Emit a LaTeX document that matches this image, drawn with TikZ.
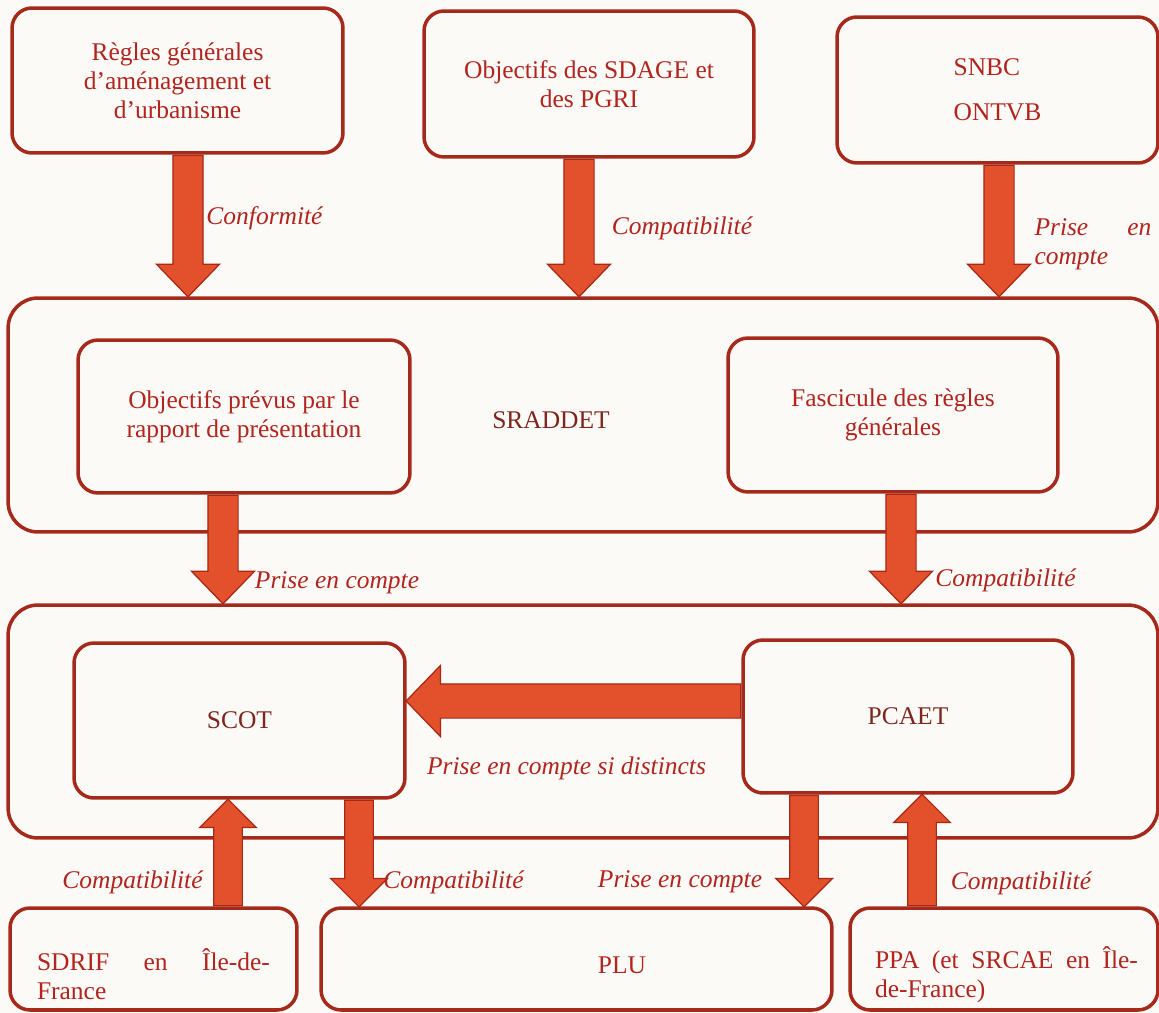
\documentclass[tikz,border=0pt]{standalone}
\usepackage{fontspec}
\setmainfont{Liberation Serif}
\usetikzlibrary{shapes.arrows,calc}

\definecolor{boxline}{RGB}{165,42,28}
\definecolor{txtred}{RGB}{178,36,30}
\definecolor{txtdark}{RGB}{125,38,30}
\definecolor{arrowfill}{RGB}{226,80,44}
\definecolor{arrowline}{RGB}{168,40,22}
\definecolor{paper}{RGB}{251,250,246}

% block arrow on a column x, from one anchor to another
\newcommand{\vflow}[4][]{%
  \path let \p1=(#3), \p2=(#4), \p3=(#2,0),
        \n1={abs(\y2-\y1)}, \n2={atan2(\y2-\y1,0)} in
    node[bigarrow,#1,minimum height=\n1,rotate=\n2,anchor=tail] at (\x3,\y1) {};}
% block arrow on a row y
\newcommand{\hflow}[4][]{%
  \path let \p1=(#3), \p2=(#4), \p3=(0,#2),
        \n1={abs(\x2-\x1)}, \n2={atan2(0,\x2-\x1)} in
    node[bigarrow,#1,minimum height=\n1,rotate=\n2,anchor=tail] at (\x1,\y3) {};}

\begin{document}
\begin{tikzpicture}[x=0.02cm,y=-0.02cm,
    every node/.style={font=\fontsize{14.5}{16.5}\selectfont},
    box/.style={draw=boxline,line width=2pt,rounded corners=0.4cm,text=txtred,align=center},
    region/.style={draw=boxline,line width=2pt,rounded corners=0.6cm},
    lbl/.style={text=txtred,font=\fontsize{14.5}{16.5}\selectfont\itshape,inner sep=0pt},
    bigarrow/.style={single arrow,draw=arrowline,fill=arrowfill,line width=0.7pt,
      inner xsep=0pt,inner ysep=0.29cm,minimum width=0pt,
      single arrow head extend=0.33cm,single arrow tip angle=88},
    smallarrow/.style={inner ysep=0.275cm,single arrow head extend=0.28cm,single arrow tip angle=90},
    widearrow/.style={inner ysep=0.33cm,single arrow head extend=0.37cm,single arrow tip angle=92}]

    \useasboundingbox (0,0) rectangle (1159,1013);
    \fill[paper] (0,0) rectangle (1159,1013);

    % Top row
    \node[box,minimum width=6.62cm,minimum height=2.9cm] (regles) at (177.5,80.5)
      {Règles générales\\d’aménagement et\\d’urbanisme};
    \node[box,minimum width=6.6cm,minimum height=2.92cm] (sdage) at (589,84)
      {Objectifs des SDAGE et\\des PGRI};
    \node[box,minimum width=6.42cm,minimum height=2.92cm,align=left] (snbc) at (997.5,90)
      {SNBC\\[9pt]ONTVB};

    % SRADDET
    \node[region,minimum width=23cm,minimum height=4.68cm] (sraddet) at (583,415) {};
    \node[text=txtdark] (sraddet-lbl) at (551,420) {SRADDET};
    \node[box,minimum width=6.64cm,minimum height=3.06cm] (objectifs) at (244,416.5)
      {Objectifs prévus par le\\rapport de présentation};
    \node[box,minimum width=6.6cm,minimum height=3.08cm] (fascicule) at (893,415)
      {Fascicule des règles\\générales};

    % SCOT and PCAET
    \node[region,minimum width=23cm,minimum height=4.66cm] (local) at (583,721.5) {};
    \node[box,text=txtdark,minimum width=6.62cm,minimum height=3.1cm] (scot) at (239.5,720.5) {SCOT};
    \node[box,text=txtdark,minimum width=6.6cm,minimum height=3.06cm] (pcaet) at (908,716.5) {PCAET};

    % Bottom row
    \node[box,minimum width=5.74cm,minimum height=2.04cm] (sdrif) at (153.5,959) {};
    \node[text=txtred,text width=4.66cm,align=justify,inner sep=0pt] (sdrif-txt) at (153.5,974)
      {SDRIF en Île-de-\linebreak France};
    \node[box,minimum width=10.22cm,minimum height=2.04cm] (plu) at (576.5,959) {};
    \node[text=txtred] (plu-txt) at (622,965) {PLU};
    \node[box,minimum width=6.16cm,minimum height=2.04cm] (ppa) at (1004,959) {};
    \node[text=txtred,text width=5.26cm,align=justify,inner sep=0pt] (ppa-txt) at (1006.5,975)
      {PPA (et SRCAE en Île-\linebreak de-France)};

    % Arrows
    \foreach \col/\src/\dst in {188/regles.south/sraddet.north,579/sdage.south/sraddet.north,
        999/snbc.south/sraddet.north,223/objectifs.south/local.north,901/fascicule.south/local.north}
      \vflow{\col}{\src}{\dst};
    \hflow[widearrow]{701}{pcaet.west}{scot.east};
    \foreach \col/\src/\dst in {359/scot.south/plu.north,804/pcaet.south/plu.north,
        228/sdrif.north/scot.south,922/ppa.north/pcaet.south}
      \vflow[smallarrow]{\col}{\src}{\dst};

    % Labels
    \node[lbl] (conf) at (264.5,218) {Conformité};
    \node[lbl] (compat-sdage) at (682,228) {Compatibilité};
    \node[lbl,text width=2.34cm,align=left] (pec-snbc) at (1093,244) {Prise\hfill en\\compte};
    \node[lbl] (pec-scot) at (337,583) {Prise en compte};
    \node[lbl] (compat-pcaet) at (1005.5,580) {Compatibilité};
    \node[lbl] (pec-distincts) at (566.5,768) {Prise en compte si distincts};
    \node[lbl] (compat-sdrif) at (132.5,882) {Compatibilité};
    \node[lbl] (compat-plu) at (453.5,882) {Compatibilité};
    \node[lbl] (pec-plu) at (680,882) {Prise en compte};
    \node[lbl] (compat-ppa) at (1021,883) {Compatibilité};

  \end{tikzpicture}
\end{document}
